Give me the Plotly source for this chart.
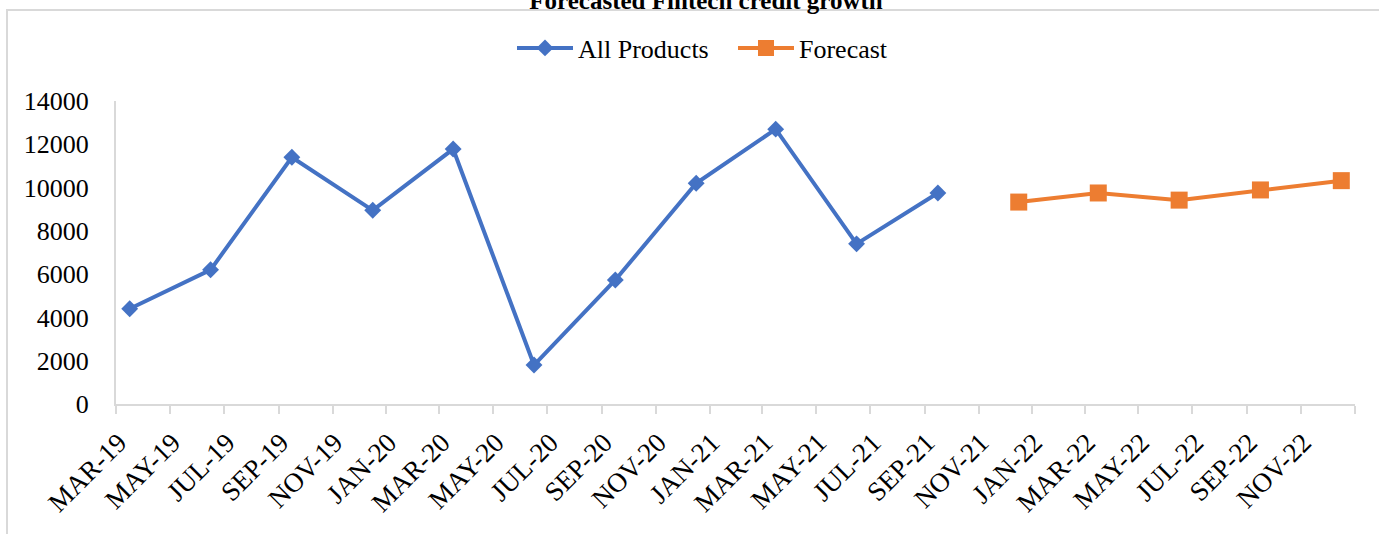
import plotly.graph_objects as go
import pandas as pd

# ---- data ----
actual_months = ["2019-03", "2019-06", "2019-09", "2019-12", "2020-03", "2020-06",
                 "2020-09", "2020-12", "2021-03", "2021-06", "2021-09"]
actual_values = [4400, 6200, 11400, 8950, 11780, 1800, 5730, 10200, 12700, 7400, 9750]

forecast_months = ["2021-12", "2022-03", "2022-06", "2022-09", "2022-12"]
forecast_values = [9330, 9750, 9420, 9890, 10320]

axis_start = "2019-03"
axis_end = "2023-01"
tick_months = pd.period_range("2019-03", "2022-11", freq="2M")
tick_labels = [p.strftime("%b-%y").upper() for p in tick_months]
y_ticks = list(range(0, 14001, 2000))
y_labels = [str(v) for v in y_ticks]

title_text = "Forecasted Fintech credit growth"

BLUE = "#4472C4"
ORANGE = "#ED7D31"
GREY = "#D9D9D9"
FONT = "Liberation Serif, Times New Roman, serif"


def mid(m):
    p = pd.Period(m, freq="M")
    return p.start_time + (p.end_time - p.start_time) / 2


fig = go.Figure()
fig.add_trace(go.Scatter(
    x=[mid(m) for m in actual_months], y=actual_values, name="All Products",
    mode="lines+markers", line=dict(color=BLUE, width=4),
    marker=dict(symbol="diamond", size=13, color=BLUE)))
fig.add_trace(go.Scatter(
    x=[mid(m) for m in forecast_months], y=forecast_values, name="Forecast",
    mode="lines+markers", line=dict(color=ORANGE, width=4),
    marker=dict(symbol="square", size=17, color=ORANGE)))

minor_vals = [p.start_time for p in pd.period_range(axis_start, axis_end, freq="2M")]

fig.update_layout(
    width=1379, height=534,
    margin=dict(l=116, r=24, t=101, b=130),
    paper_bgcolor="white", plot_bgcolor="white",
    font=dict(family=FONT, size=26, color="black"),
    title=dict(text="<b>" + title_text + "</b>", x=0.512, xanchor="center",
               y=1.0, yref="container", yanchor="middle",
               font=dict(family=FONT, size=25, color="black"), pad=dict(t=0, b=0)),
    showlegend=True,
    legend=dict(orientation="h", x=(512 - 116) / 1239, xanchor="left", y=1.175, yanchor="middle",
                font=dict(family=FONT, size=26), itemwidth=56,
                entrywidth=150, entrywidthmode="pixels",
                bgcolor="rgba(0,0,0,0)"),
    xaxis=dict(
        type="date",
        range=[pd.Period(axis_start, freq="M").start_time, pd.Period(axis_end, freq="M").start_time],
        tickmode="array",
        tickvals=[mid(str(p)) for p in tick_months.asfreq("M")],
        ticktext=tick_labels,
        tickangle=-45, ticks="", showgrid=False, zeroline=False,
        showline=True, linecolor=GREY, linewidth=2,
        ticklabelstandoff=10, ticklabelshift=-38,
        tickfont=dict(family=FONT, size=27),
        minor=dict(tickmode="array", tickvals=minor_vals, ticks="outside",
                   ticklen=8, tickcolor=GREY, tickwidth=2, showgrid=False),
    ),
    yaxis=dict(
        range=[0, 14000], tickmode="array", tickvals=y_ticks, ticktext=y_labels,
        showgrid=False, zeroline=False, showline=True, linecolor=GREY, linewidth=2,
        ticks="", ticklabelstandoff=20, tickfont=dict(family=FONT, size=26),
    ),
    shapes=[dict(type="rect", xref="paper", yref="paper",
                 x0=(7 - 116) / 1239, x1=1.05, y0=-0.6, y1=(404 - 10) / 303,
                 line=dict(color=GREY, width=2), fillcolor="rgba(0,0,0,0)", layer="below")],
)

fig.write_html("out.html")
